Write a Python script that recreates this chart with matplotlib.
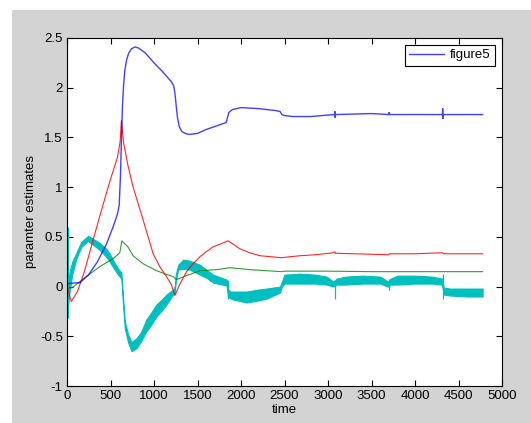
import matplotlib
matplotlib.use("Agg")
import matplotlib.pyplot as plt
from matplotlib.patches import Rectangle

# ---- data ----
blue_t = [0, 150, 250, 350, 450, 530, 580, 600, 614, 625, 637, 650, 664, 685, 710, 740, 780, 820, 900, 1000, 1100, 1200,
          1225, 1240, 1255, 1270, 1290, 1320, 1360, 1400, 1500, 1600, 1700, 1830, 1845, 1860, 1900, 1950, 2000, 2200,
          2400, 2450, 2470, 2500, 2600, 2800, 3000, 3078, 3080, 3083, 3086, 3500, 3700, 3702, 3705, 4000, 4315, 4318,
          4321, 4324, 4777]
blue_v = [0.03, 0.04, 0.12, 0.25, 0.42, 0.60, 0.73, 0.82, 1.10, 1.45, 1.80, 2.02, 2.17, 2.28, 2.35, 2.39, 2.41, 2.40, 2.35, 2.25, 2.16, 2.06,
          2.02, 1.95, 1.82, 1.70, 1.61, 1.56, 1.54, 1.53, 1.54, 1.58, 1.61, 1.65, 1.70, 1.75, 1.78, 1.79, 1.80, 1.79,
          1.77, 1.76, 1.73, 1.72, 1.71, 1.71, 1.725, 1.73, 1.76, 1.70, 1.73, 1.74, 1.73, 1.75, 1.73, 1.73, 1.73, 1.79,
          1.69, 1.73, 1.73]

red_t = [0, 50, 120, 200, 300, 400, 500, 580, 610, 625, 650, 700, 760, 875, 990, 1067, 1143, 1200, 1240, 1300,
         1374, 1450, 1527, 1600, 1680, 1770, 1853, 1920, 1988, 2100, 2218, 2350, 2467, 2560, 2678, 2850, 3062,
         3080, 3085, 3300, 3700, 3705, 4000, 4320, 4325, 4777]
red_v = [0.0, -0.15, -0.05, 0.15, 0.47, 0.78, 1.08, 1.30, 1.45, 1.67, 1.45, 1.22, 1.0, 0.67, 0.33, 0.20, 0.10, 0.02, -0.09, 0.03,
         0.15, 0.23, 0.30, 0.35, 0.40, 0.43, 0.46, 0.42, 0.38, 0.34, 0.31, 0.30, 0.29, 0.30, 0.31, 0.32, 0.34,
         0.35, 0.335, 0.33, 0.32, 0.33, 0.33, 0.34, 0.33, 0.33]

green_t = [0, 60, 222, 376, 530, 606, 615, 630, 700, 760, 875, 1028, 1150, 1220, 1259, 1374, 1527, 1719, 1873, 2103,
           2467, 2500, 3000, 3500, 4000, 4777]
green_v = [-0.02, -0.01, 0.10, 0.20, 0.28, 0.34, 0.38, 0.46, 0.40, 0.31, 0.23, 0.16, 0.12, 0.10, 0.07, 0.11, 0.16, 0.17, 0.19, 0.17,
           0.15, 0.155, 0.155, 0.15, 0.15, 0.15]

cyan_t = [10, 30, 60, 107, 165, 242, 300, 376, 450, 491, 540, 587, 625, 645, 664, 702, 741, 798, 850, 913, 970,
          1028, 1090, 1143, 1220, 1238, 1250, 1278, 1335, 1412, 1527, 1600, 1680, 1834, 1850, 1880, 1911, 2064,
          2200, 2295, 2448, 2470, 2500, 2678, 2850, 2985, 3060, 3100, 3200, 3400, 3600, 3690, 3720, 3800, 4000,
          4200, 4310, 4330, 4400, 4600, 4777]
cyan_lo = [-0.2, -0.05, 0.12, 0.28, 0.40, 0.46, 0.42, 0.37, 0.30, 0.25, 0.18, 0.12, 0.08, -0.20, -0.42, -0.56, -0.65, -0.62, -0.55, -0.45, -0.38,
           -0.30, -0.24, -0.18, -0.08, -0.06, 0.05, 0.17, 0.18, 0.17, 0.12, 0.09, 0.04, 0.01, -0.10, -0.12, -0.13, -0.16,
           -0.14, -0.12, -0.06, 0.0, 0.03, 0.03, 0.03, 0.02, 0.0, 0.02, 0.02, 0.03, 0.03, 0.0, 0.02, 0.02, 0.03,
           0.03, 0.02, -0.08, -0.09, -0.10, -0.10]
cyan_hi = [0.0, 0.15, 0.25, 0.34, 0.45, 0.51, 0.48, 0.44, 0.38, 0.33, 0.25, 0.18, 0.14, -0.12, -0.35, -0.48, -0.56, -0.52, -0.46, -0.33, -0.26,
           -0.18, -0.13, -0.08, -0.03, 0.0, 0.12, 0.22, 0.27, 0.26, 0.22, 0.17, 0.12, 0.07, -0.03, -0.05, -0.05, -0.05,
           -0.03, -0.02, 0.0, 0.05, 0.12, 0.13, 0.12, 0.10, 0.05, 0.08, 0.10, 0.11, 0.10, 0.05, 0.08, 0.11, 0.11,
           0.10, 0.08, -0.01, -0.02, -0.02, -0.02]

spike_t = [12, 3081, 3702, 4320, 1853]
spike_lo = [-0.32, -0.12, -0.03, -0.13, -0.13]
spike_hi = [0.60, 0.06, 0.08, 0.13, 0.07]

xticks = [0, 500, 1000, 1500, 2000, 2500, 3000, 3500, 4000, 4500, 5000]
yticks = [-1, -0.5, 0, 0.5, 1, 1.5, 2, 2.5]
ytick_labels = ["-1", "-0.5", "0", "0.5", "1", "1.5", "2", "2.5"]

# ---- figure ----
plt.rcParams['font.family'] = ['Liberation Sans', 'DejaVu Sans']
fig = plt.figure(figsize=(5.31, 4.23), dpi=100, facecolor='white')
fig.patches.append(Rectangle((12 / 531, 0), 1 - 12 / 531, 1 - 10 / 423, transform=fig.transFigure,
                             facecolor='#d3d3d3', edgecolor='none', zorder=-10))
ax = fig.add_axes([67 / 531, 37 / 423, 435 / 531, 348 / 423])
ax.set_facecolor('white')

cyan = '#00bfbf'
ax.fill_between(cyan_t, cyan_lo, cyan_hi, color=cyan, linewidth=0.8, edgecolor=cyan)
ax.vlines(spike_t, spike_lo, spike_hi, color=cyan, linewidth=0.9)
ax.plot(green_t, green_v, color='#008000', linewidth=0.8, alpha=0.8)
ax.plot(red_t, red_v, color='#ff0000', linewidth=0.8, alpha=0.85)
ax.plot(blue_t, blue_v, color='#0000ff', linewidth=1.0, alpha=0.75, label='figure5')

ax.set_xlim(0, 5000)
ax.set_ylim(-1, 2.5)
ax.set_xticks(xticks)
ax.set_xticklabels([str(v) for v in xticks])
ax.set_yticks(yticks)
ax.set_yticklabels(ytick_labels)
ax.tick_params(direction='in', top=True, right=True, length=4, width=0.8, labelsize=9.5, pad=3, colors='black')
for s in ax.spines.values():
    s.set_linewidth(0.8)
    s.set_color('black')
ax.set_xlabel('time', fontsize=9.5, labelpad=1)
ax.set_ylabel('paramter estimates', fontsize=9.5, labelpad=2)

leg = ax.legend(loc='upper right', fontsize=9.5, fancybox=False, framealpha=1, edgecolor='black',
                borderaxespad=0.5, handlelength=2.6, handletextpad=0.5, borderpad=0.35)
leg.get_frame().set_linewidth(0.8)

fig.savefig('out.png', dpi=100, facecolor=fig.get_facecolor())
